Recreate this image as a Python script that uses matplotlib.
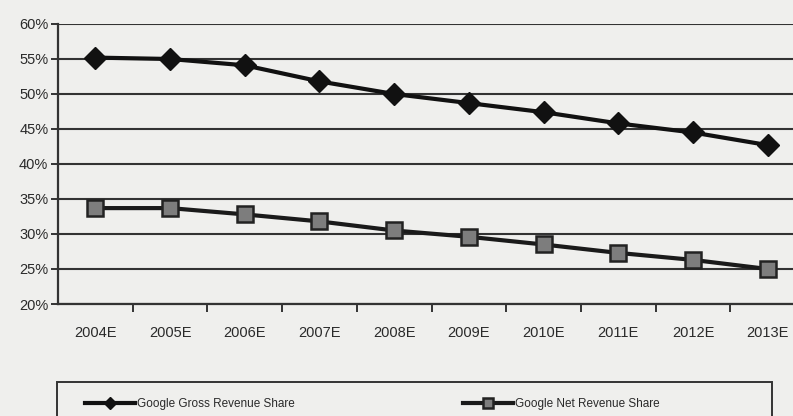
import matplotlib.pyplot as plt
from matplotlib.patches import Rectangle
from matplotlib.ticker import FixedLocator

years = ["2004E", "2005E", "2006E", "2007E", "2008E", "2009E", "2010E", "2011E", "2012E", "2013E"]
gross_share = [55.2, 55.0, 54.1, 51.8, 50.0, 48.7, 47.4, 45.8, 44.5, 42.7]
net_share = [33.7, 33.7, 32.8, 31.8, 30.5, 29.6, 28.5, 27.3, 26.3, 25.0]
y_ticks = [20, 25, 30, 35, 40, 45, 50, 55, 60]

plt.rcParams["font.family"] = ["Liberation Sans", "DejaVu Sans"]

bg = "#efefed"
ink = "#2a2a2a"
fig = plt.figure(figsize=(7.93, 4.16), dpi=100, facecolor=bg)
ax = fig.add_axes([58 / 793, 1 - 304 / 416, (805 - 58) / 793, 280 / 416])
ax.set_facecolor(bg)

x = list(range(len(years)))
l1, = ax.plot(x, gross_share, color="#111111", lw=3, marker="D", ms=11,
              mfc="#111111", mec="#111111", label="Google Gross Revenue Share", zorder=3)
l2, = ax.plot(x, net_share, color="#1a1a1a", lw=3, marker="s", ms=12,
              mfc="#7d7d7d", mec="#222222", mew=1.8, label="Google Net Revenue Share", zorder=3)

ax.set_xlim(-0.5, len(years) - 0.5)
ax.set_ylim(20, 60)
ax.set_yticks(y_ticks)
ax.set_yticklabels([f"{v}%" for v in y_ticks])
ax.set_xticks(x)
ax.set_xticklabels(years)
ax.xaxis.set_minor_locator(FixedLocator([i + 0.5 for i in range(len(years) - 1)]))
ax.tick_params(axis="x", which="major", length=0, pad=16, labelsize=10.5, colors=ink)
ax.tick_params(axis="x", which="minor", length=6, width=1.4, color="#333333")
ax.tick_params(axis="y", length=5, width=1.4, color="#333333", labelsize=10.5,
               labelcolor=ink, pad=2)

ax.grid(axis="y", color="#333333", lw=1.5)
ax.set_axisbelow(True)
for s in ["top", "right"]:
    ax.spines[s].set_visible(False)
for s in ["left", "bottom"]:
    ax.spines[s].set_color("#333333")
    ax.spines[s].set_linewidth(1.6)

# legend box
fig.patches.append(Rectangle((57 / 793, -0.05), (772 - 57) / 793, 0.05 + (416 - 382) / 416,
                             transform=fig.transFigure, fill=False, ec="#333333", lw=1.4))
for handle, xpos in [(l1, 85), (l2, 463)]:
    fig.legend(handles=[handle], loc="center left", bbox_to_anchor=(xpos / 793, 1 - 404 / 416),
               frameon=False, fontsize=8.5, handlelength=4.2, handletextpad=0.2,
               borderpad=0, borderaxespad=0, markerscale=0.55, labelcolor=ink)

fig.savefig("out.png", dpi=100, facecolor=bg)
